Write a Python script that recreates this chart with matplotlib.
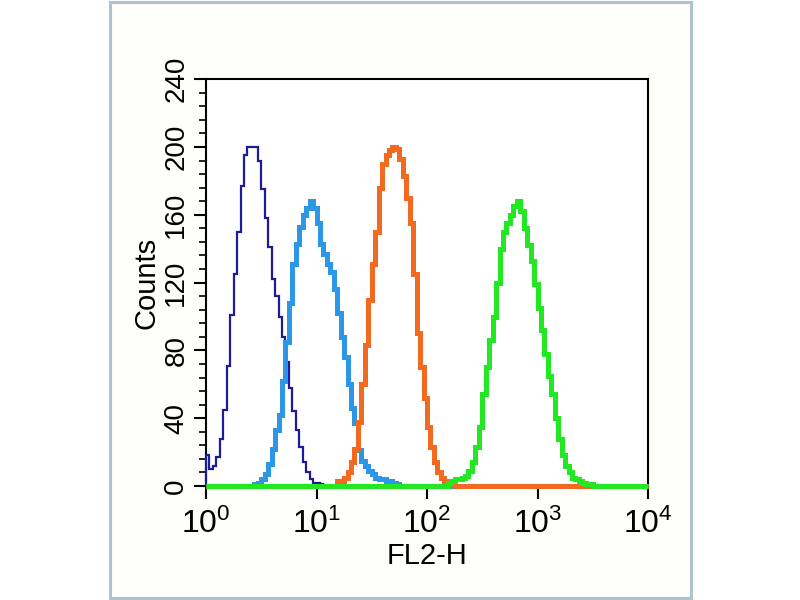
import matplotlib
matplotlib.use("Agg")
import matplotlib.pyplot as plt
import numpy as np
from matplotlib.patches import Rectangle
from matplotlib.ticker import MultipleLocator, LogLocator, NullFormatter

plt.rcParams['font.family'] = ['Liberation Sans', 'DejaVu Sans']
plt.rcParams['mathtext.fontset'] = 'custom'
plt.rcParams['mathtext.rm'] = 'Liberation Sans'

# histogram channels: 128 bins over 4 decades (10^0 .. 10^4)
n_bins = 128
edges = np.logspace(0, 4, n_bins + 1)

# counts, each series starts at a bin index
navy_start = 0
navy_counts = [18, 10, 12, 17, 28, 45, 71, 101, 125, 150, 177, 195, 200, 200, 200, 192,
               175, 158, 141, 122, 112, 100, 88, 73, 58, 44, 33, 23, 14, 8, 4, 2, 2, 1]

blue_start = 14
blue_counts = [1, 2, 4, 7, 13, 22, 33, 42, 62, 85, 108, 131, 143, 153, 160, 164, 168, 164,
               155, 143, 137, 131, 126, 116, 102, 88, 76, 60, 46, 37, 21, 15, 12, 9, 7, 5,
               4, 4, 3, 3, 2, 1]

orange_start = 38
orange_counts = [3, 3, 5, 8, 14, 22, 38, 60, 83, 110, 131, 150, 176, 190, 195, 198, 200, 199,
                 193, 183, 170, 155, 125, 90, 70, 52, 35, 23, 14, 8, 5, 3, 2, 1]

green_start = 70
green_counts = [2, 3, 4, 4, 5, 6, 9, 14, 23, 35, 54, 70, 86, 100, 120, 140, 150, 155, 160, 165,
                168, 162, 152, 142, 133, 119, 105, 92, 78, 65, 54, 40, 28, 18, 12, 8, 5, 4,
                3, 2, 1, 1]

series = [
    (navy_start, navy_counts, '#1c1c9a', 1.6),
    (blue_start, blue_counts, '#2b97e6', 3.6),
    (orange_start, orange_counts, '#f2691f', 3.6),
    (green_start, green_counts, '#22e822', 3.6),
]

fig = plt.figure(figsize=(8, 6), dpi=100)

# light blue frame around the picture (kept behind the axes)
frame = Rectangle((0.137, 0.004), 0.727, 0.992, transform=fig.transFigure,
                  fill=True, facecolor='#fefefb', edgecolor='#adc2d3', lw=2.2, zorder=-10)
fig.patches.append(frame)

ax = fig.add_axes([0.2575, 0.19, 0.5525, 0.678])

for start, counts, color, lw in series:
    full = np.zeros(n_bins)
    full[start:start + len(counts)] = counts
    ax.stairs(full, edges, color=color, lw=lw, clip_on=False, zorder=3)

ax.set_xscale('log')
ax.set_xlim(1, 1e4)
ax.set_ylim(0, 240)

ax.set_xticks([1, 10, 100, 1000, 10000])
ax.set_xticklabels([r'$\mathregular{10^{%d}}$' % k for k in range(5)])
ax.xaxis.set_minor_locator(LogLocator(base=10, subs=np.arange(2, 10)))
ax.xaxis.set_minor_formatter(NullFormatter())

ax.yaxis.set_major_locator(MultipleLocator(40))
ax.yaxis.set_minor_locator(MultipleLocator(8))
for lab in ax.get_yticklabels():
    lab.set_rotation(90)
    lab.set_va('center')

ax.tick_params(axis='both', which='major', direction='out', length=9, width=1.5,
               color='black')
ax.tick_params(axis='both', which='minor', direction='out', length=5, width=1.2)
ax.tick_params(axis='x', pad=7, labelsize=23)
ax.tick_params(axis='y', pad=3, labelsize=20)
ax.tick_params(top=False, right=False, which='both')

for s in ax.spines.values():
    s.set_linewidth(1.5)
ax.set_facecolor('white')

ax.set_xlabel('FL2-H', fontsize=21, labelpad=2)
ax.set_ylabel('Counts', fontsize=21, labelpad=2)

fig.savefig('out.png', dpi=100)
